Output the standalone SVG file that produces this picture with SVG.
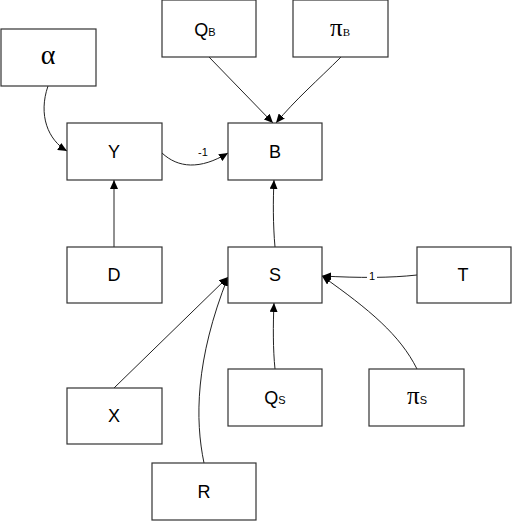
<svg xmlns="http://www.w3.org/2000/svg" width="512" height="521" viewBox="0 0 512 521">
<style>
.box{fill:#fff;stroke:#333;stroke-width:1.2}
.t{font-family:"Liberation Sans",Arial,sans-serif;font-size:18px;fill:#000;text-anchor:middle}
.g{font-family:"Liberation Serif","Times New Roman",serif;fill:#000;text-anchor:middle}
.sub{font-size:11px}
.c{fill:none;stroke:#222;stroke-width:1}
.lbl{font-family:"Liberation Sans",Arial,sans-serif;font-size:11px;fill:#000;text-anchor:middle}
</style>
<defs>
<marker id="ah" markerWidth="9" markerHeight="8" refX="9" refY="4" orient="auto" markerUnits="userSpaceOnUse">
<path d="M0,0 L9,4 L0,8 Z" fill="#000"/>
</marker>
</defs>
<rect width="512" height="521" fill="#fff"/>
<g id="connectors">
<path class="c" d="M48,86 C38,115 48,140 67,151" marker-end="url(#ah)"/>
<path class="c" d="M162,153 C178,168 200,170 228,153" marker-end="url(#ah)"/>
<path class="c" d="M209,57 L273,123" marker-end="url(#ah)"/>
<path class="c" d="M341,57 C318,80 295,100 276,123" marker-end="url(#ah)"/>
<path class="c" d="M114,247 L114,180" marker-end="url(#ah)"/>
<path class="c" d="M275,247 C273,225 273,200 274,180" marker-end="url(#ah)"/>
<path class="c" d="M417,275 C390,278 360,278 322,276" marker-end="url(#ah)"/>
<path class="c" d="M417,369 C400,335 370,310 322,276" marker-end="url(#ah)"/>
<path class="c" d="M275,369 C273,350 273,325 274,303" marker-end="url(#ah)"/>
<path class="c" d="M114,388 L228,277" marker-end="url(#ah)"/>
<path class="c" d="M204,463 C195,420 195,360 228,277" marker-end="url(#ah)"/>
<text class="lbl" x="203" y="156">-1</text>
<rect x="367" y="270" width="10" height="12" fill="#fff"/>
<text class="lbl" x="372" y="280">1</text>
</g>
<g id="alpha"><rect class="box" x="1" y="29" width="95" height="57"/><text class="g" x="48" y="64" font-size="28">α</text></g>
<g id="QB"><rect class="box" x="162" y="0" width="94" height="57"/><text class="t" x="205" y="36">Q<tspan class="sub">B</tspan></text></g>
<g id="piB"><rect class="box" x="293" y="0" width="95" height="57"/><text class="g" x="340" y="36" font-size="25">π<tspan class="sub">B</tspan></text></g>
<g id="Y"><rect class="box" x="67" y="123" width="95" height="57"/><text class="t" x="114" y="158">Y</text></g>
<g id="B"><rect class="box" x="228" y="123" width="94" height="57"/><text class="t" x="275" y="158">B</text></g>
<g id="D"><rect class="box" x="67" y="247" width="95" height="56"/><text class="t" x="114" y="281">D</text></g>
<g id="S"><rect class="box" x="228" y="247" width="94" height="56"/><text class="t" x="275" y="281">S</text></g>
<g id="T"><rect class="box" x="417" y="247" width="94" height="56"/><text class="t" x="463" y="281">T</text></g>
<g id="QS"><rect class="box" x="228" y="369" width="94" height="57"/><text class="t" x="275" y="404">Q<tspan class="sub" font-family="Liberation Sans">S</tspan></text></g>
<g id="piS"><rect class="box" x="369" y="369" width="95" height="57"/><text class="g" x="417" y="404" font-size="25">π<tspan class="sub" font-family="Liberation Sans">S</tspan></text></g>
<g id="X"><rect class="box" x="67" y="388" width="95" height="56"/><text class="t" x="114" y="422">X</text></g>
<g id="R"><rect class="box" x="152" y="463" width="104" height="57"/><text class="t" x="204" y="498">R</text></g>
</svg>
